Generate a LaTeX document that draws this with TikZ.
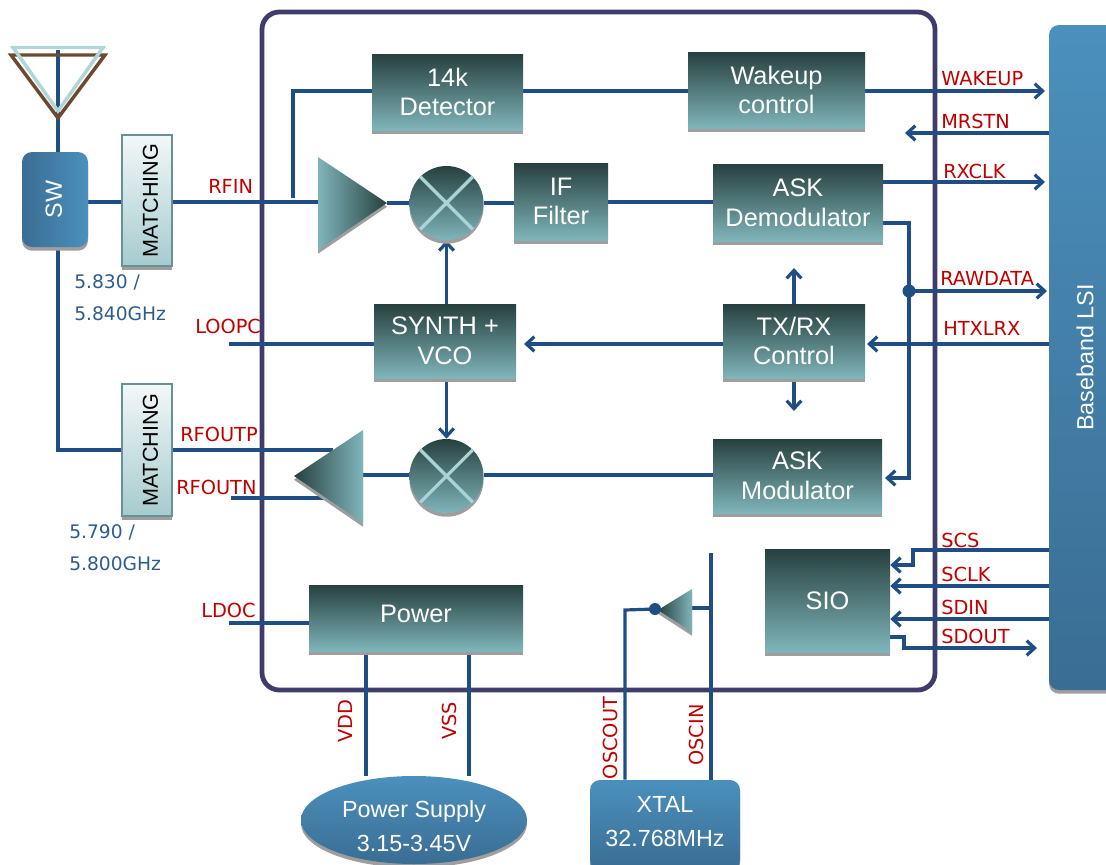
\documentclass[tikz,border=0pt]{standalone}
\usepackage{fontspec}
\setmainfont{Liberation Sans}
\newfontfamily\lblfont{DejaVu Sans}
\usetikzlibrary{arrows.meta,shadows,backgrounds,calc,shapes.geometric}
\definecolor{wire}{HTML}{1F4E85}
\definecolor{frameC}{HTML}{3F3B6B}
\definecolor{darkT}{HTML}{27403F}
\definecolor{lightT}{HTML}{7FB5BA}
\definecolor{labelred}{HTML}{C00000}
\definecolor{bluetxt}{HTML}{2F5C8F}
\definecolor{xline}{HTML}{A9D3D5}
\definecolor{antL}{HTML}{B0D6D8}
\definecolor{antB}{HTML}{6B4A30}
\definecolor{blueA}{HTML}{4B90BD}
\definecolor{blueB}{HTML}{3A6D93}
\tikzset{
  x=0.75pt,y=-0.75pt,
  >={Straight Barb[length=6pt,width=11pt]},
  sz/.style 2 args={minimum width=#1*0.75pt,minimum height=#2*0.75pt},
  shad/.style={drop shadow={shadow xshift=0pt,shadow yshift=-2.8pt,fill=black!38,opacity=1}},
  wireline/.style={draw=wire,line width=2.4pt,line join=miter},
  tealbox/.style={shad,rectangle,inner sep=0pt,top color=darkT,bottom color=lightT,text=white,align=center,font=\fontsize{19}{22.2}\selectfont},
  matchbox/.style={shad,rectangle,inner sep=0pt,draw=lightT!80!black,line width=1.3pt,top color=white!90!lightT,bottom color=lightT!70!white,text=black},
  mixer/.style={shad,circle,inner sep=0pt,minimum size=55.5pt,top color=darkT,bottom color=lightT},
  xmark/.style={draw=xline,line width=2.4pt},
  lbl/.style={text=labelred,font=\lblfont\fontsize{14.5}{16}\selectfont,inner sep=0pt},
  freq/.style={text=bluetxt,font=\lblfont\fontsize{14}{16}\selectfont,inner sep=0pt,anchor=west},
  bluebox/.style={shad,inner sep=0pt,text=white,align=center,font=\fontsize{17.5}{23}\selectfont},
  bluetext/.style={inner sep=0pt,text=white,align=center,font=\fontsize{17.5}{25}\selectfont},
  amp/.style={shad},
}
\begin{document}
\begin{tikzpicture}
\useasboundingbox (0,0) rectangle (1106,864);

% blocks
\node[tealbox,sz={151}{76}] (det) at (447.5,92) {14k\\Detector};
\node[tealbox,sz={177}{76}] (wake) at (776.5,90) {Wakeup\\control};
\node[tealbox,sz={94}{77}] (iff) at (561,201.5) {IF\\Filter};
\node[tealbox,sz={170}{77}] (dem) at (798,202.5) {ASK\\Demodulator};
\node[tealbox,sz={142}{74}] (syn) at (445,341) {SYNTH +\\VCO};
\node[tealbox,sz={142}{74}] (trx) at (794,341) {TX/RX\\Control};
\node[tealbox,sz={169}{74}] (mod) at (797.5,476) {ASK\\Modulator};
\node[tealbox,sz={125}{103}] (sio) at (827.5,600.5) {SIO};
\node[tealbox,sz={214}{66}] (pwr) at (416,618) {\raisebox{6pt}{Power}};

\node[mixer] (mx1) at (446.5,203) {};
\draw[xmark] (mx1.north west) -- (mx1.south east) (mx1.north east) -- (mx1.south west);
\node[mixer] (mx2) at (446.5,476) {};
\draw[xmark] (mx2.north west) -- (mx2.south east) (mx2.north east) -- (mx2.south west);

\node[bluebox,rectangle,rounded corners=7.5pt,left color=blueB,right color=blueA,sz={66}{95}] (sw) at (55,199.5) {\rotatebox{90}{\raisebox{2pt}{SW}}};
\node[matchbox,sz={50}{131}] (m1) at (147,200.5) {\hspace{5pt}\rotatebox{90}{\fontsize{16.2}{18}\selectfont MATCHING}};
\node[matchbox,sz={50}{132}] (m2) at (147,450) {\hspace{5pt}\rotatebox{90}{\fontsize{16.2}{18}\selectfont MATCHING}};
\node[bluebox,rectangle,rounded corners=7.5pt,top color=blueA,bottom color=blueB,sz={72}{665}] (bb) at (1085,357.5) {\rotatebox{90}{Baseband LSI}};
\node[bluebox,ellipse,top color=blueA,bottom color=blueB,sz={226}{88}] (ps) at (414,820) {};
\node[bluetext] (psT) at (414,826) {Power Supply\\3.15-3.45V};
\node[bluebox,rectangle,rounded corners=7.5pt,top color=blueA,bottom color=blueB,sz={150}{90}] (xt) at (665,825) {};
\node[bluetext] (xtT) at (665,821.5) {XTAL\\32.768MHz};

% amplifiers
\coordinate (a1t) at (318,157); \coordinate (a1b) at (318,250); \coordinate (a1p) at (387,203);
\path[amp,left color=lightT,right color=darkT] (a1t) -- (a1p) -- (a1b) -- cycle;
\coordinate (a2t) at (363,430); \coordinate (a2b) at (363,523); \coordinate (a2p) at (294,476);
\path[amp,left color=darkT,right color=lightT] (a2t) -- (a2p) -- (a2b) -- cycle;
\coordinate (a3t) at (692,589); \coordinate (a3b) at (692,632); \coordinate (a3p) at (658,610);
\path[amp,left color=darkT,right color=lightT] (a3t) -- (a3p) -- (a3b) -- cycle;

% free ends
\coordinate (antTop) at (58,50);
\coordinate (antApex) at (58,116);
\coordinate (rawEnd) at (1047,291);
\coordinate (dotC) at (909,291);
\coordinate (oscT) at (711,553);
\coordinate (oscoutC) at (625,610);
\coordinate (dot2) at (655,609);
\coordinate (loopE) at (229,344);
\coordinate (ldoE) at (229,623);
\coordinate (rfnE) at (231,498);
\fill[wire] (dotC) circle (6.5);
\fill[wire] (dot2) circle (6);

\begin{scope}[on background layer]
\draw[draw=frameC,line width=3.6pt,rounded corners=13pt] (262,12) rectangle (935,690);

\draw[wireline] (antTop) -- (sw.north -| antTop);
\draw[wireline] (sw.south -| antTop) |- (m2.west |- 0,450);
\draw[wireline] (sw.east |- 0,202) -- (m1.west |- 0,202);
\draw[wireline] (m1.east |- 0,202) -- (a1t |- 0,202);
\draw[wireline] (293,198) |- (det.west |- 0,91);
\draw[wireline] (det.east |- 0,91) -- (wake.west |- 0,91);
\draw[wireline,->] (wake.east |- 0,91) -- (1045,91);
\draw[wireline,->] (bb.west |- 0,133) -- (905,133);
\draw[wireline] (a1p) -- (mx1.west);
\draw[wireline] (mx1.east) -- (iff.west |- mx1.east);
\draw[wireline] (iff.east |- 0,202) -- (dem.west |- 0,202);
\draw[wireline,->] (dem.east |- 0,182) -- (1045,182);
\draw[wireline,->] (dem.east |- 0,223) -| (dotC) |- (885,478);
\draw[wireline,->] (dotC) -- (rawEnd);
\draw[wireline,->] (bb.west |- 0,344) -- (867,344);
\draw[wireline,->] (trx.west |- 0,344) -- (524,344);
\draw[wireline,->] (trx.north) -- (trx.north |- 0,268);
\draw[wireline,->] (trx.south) -- (trx.south |- 0,411);
\draw[wireline,->] (syn.north -| mx1.south) -- (mx1.south);
\draw[wireline,->] (syn.south -| mx2.north) -- (mx2.north);
\draw[wireline] (loopE) -- (syn.west |- loopE);
\draw[wireline] (mod.west |- 0,475) -- (mx2.east |- 0,475);
\draw[wireline] (mx2.west |- 0,475) -- (a2t |- 0,475);
\draw[wireline] (m2.east |- 0,450) -- (333,450);
\draw[wireline] (rfnE) -- (333,498);
\draw[wireline] (ldoE) -- (pwr.west |- ldoE);
\draw[wireline] (366,651) -- (366,776);
\draw[wireline] (469,651) -- (469,776);
\draw[wireline] (xt.north -| oscoutC) -- (oscoutC) -- (dot2);
\draw[wireline] (xt.north -| oscT) -- (oscT);
\draw[wireline] (a3t |- 0,608) -- (oscT |- 0,608);
\draw[wireline,->] (bb.west |- 0,550) -- (913,550) -- (913,565) -- (sio.east |- 0,565);
\draw[wireline,->] (bb.west |- 0,586) -- (sio.east |- 0,586);
\draw[wireline,->] (bb.west |- 0,619) -- (sio.east |- 0,619);
\draw[wireline,->] (888,637) -- (904,637) -- (904,648) -- (1037,648);

% antenna
\draw[wireline] (antTop) -- (antApex);
\draw[draw=antB,line width=2.6pt,line join=miter] (11,55) -- (105,55) -- (58,118) -- cycle;
\draw[draw=antL,line width=2.6pt,line join=miter] (13,47.5) -- (103,47.5) -- (58,111) -- cycle;
\end{scope}

% labels
\node[lbl,anchor=west] (lRfin) at (208,186) {RFIN};
\node[lbl,anchor=west] (lWake) at (941,79) {WAKEUP};
\node[lbl,anchor=west] (lMrst) at (941,121) {MRSTN};
\node[lbl,anchor=west] (lRxck) at (943,171) {RXCLK};
\node[lbl,anchor=west] (lRaw) at (940,278) {RAWDATA};
\node[lbl,anchor=west] (lHtx) at (943,328) {HTXLRX};
\node[lbl,anchor=west] (lLoop) at (195,326) {LOOPC};
\node[lbl,anchor=west] (lOutp) at (180,434) {RFOUTP};
\node[lbl,anchor=west] (lOutn) at (176,487) {RFOUTN};
\node[lbl,anchor=west] (lLdo) at (201,610) {LDOC};
\node[lbl,anchor=west] (lScs) at (941,540) {SCS};
\node[lbl,anchor=west] (lSck) at (941,574) {SCLK};
\node[lbl,anchor=west] (lSdi) at (941,607) {SDIN};
\node[lbl,anchor=west] (lSdo) at (941,636) {SDOUT};
\node[lbl,rotate=90] (lVdd) at (345,721) {VDD};
\node[lbl,rotate=90] (lVss) at (449,721) {VSS};
\node[lbl,rotate=90] (lOut) at (610,738) {OSCOUT};
\node[lbl,rotate=90] (lIn) at (696,735) {OSCIN};
\node[freq] (f1) at (74,282) {5.830 /};
\node[freq] (f2) at (74,314) {5.840GHz};
\node[freq] (f3) at (69,532) {5.790 /};
\node[freq] (f4) at (69,564) {5.800GHz};
\end{tikzpicture}
\end{document}
